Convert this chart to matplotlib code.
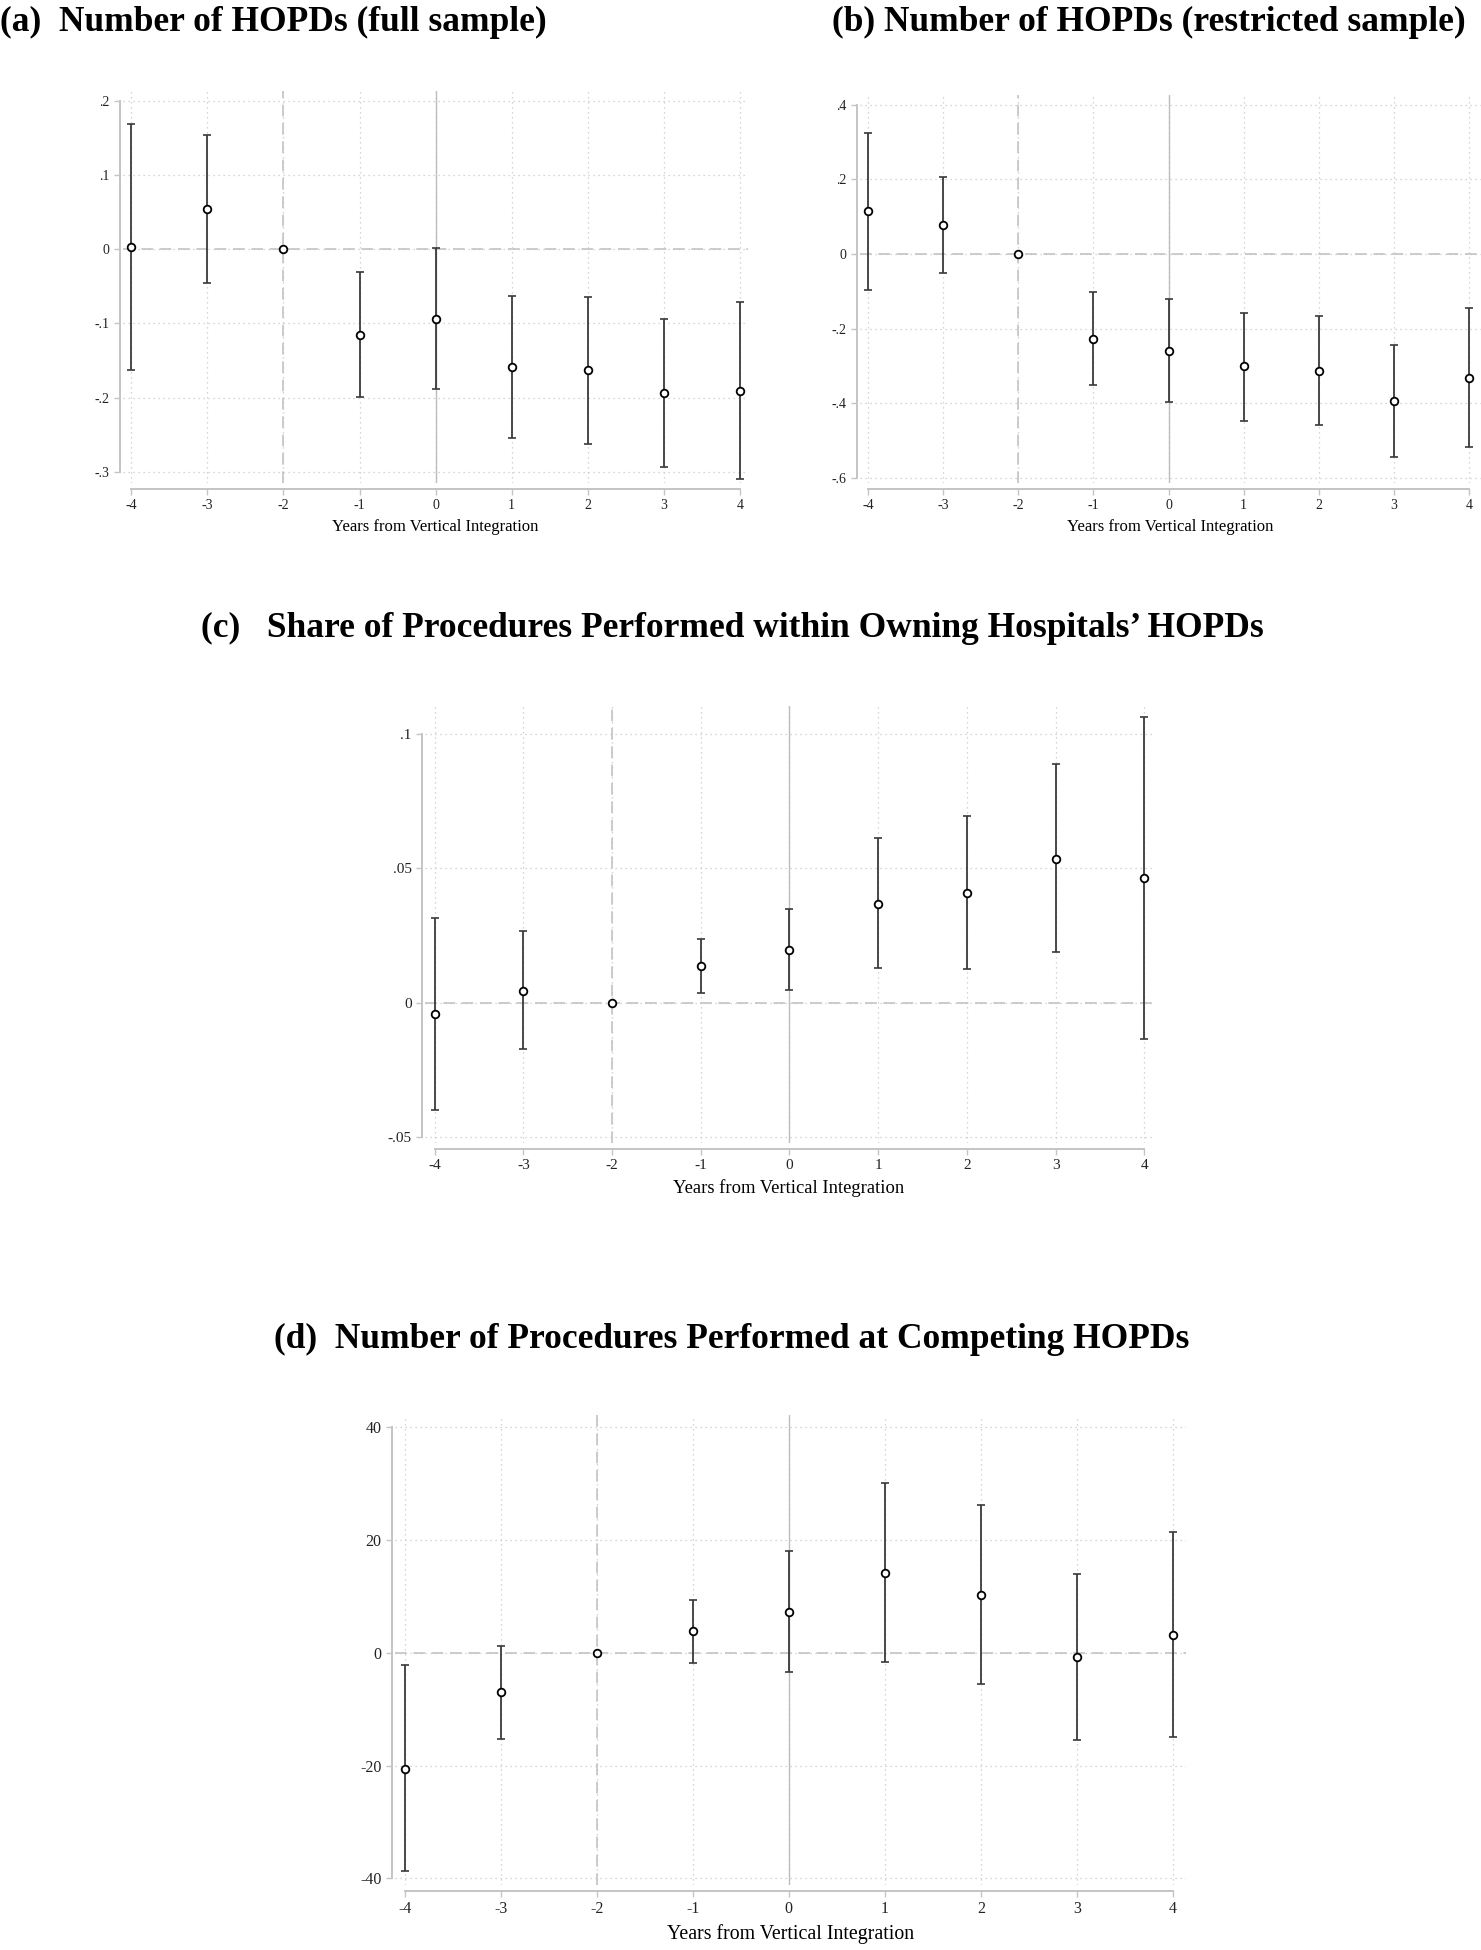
import numpy as np
import matplotlib
matplotlib.use("Agg")
from matplotlib import pyplot as plt

plt.rcParams["font.family"] = ["Liberation Serif", "DejaVu Serif"]

years = [-4, -3, -2, -1, 0, 1, 2, 3, 4]

# (a) number of HOPDs, full sample
a_coef = [0.0034, 0.054, 0.0, -0.115, -0.094, -0.159, -0.163, -0.194, -0.191]
a_hi = [0.169, 0.154, 0.0, -0.031, 0.002, -0.0635, -0.064, -0.094, -0.071]
a_lo = [-0.1625, -0.0457, 0.0, -0.199, -0.189, -0.254, -0.262, -0.293, -0.309]
a_yticks = [-0.3, -0.2, -0.1, 0, 0.1, 0.2]
a_ylabels = ["-.3", "-.2", "-.1", "0", ".1", ".2"]

# (b) number of HOPDs, restricted sample
b_coef = [0.115, 0.0775, 0.0, -0.227, -0.259, -0.301, -0.313, -0.393, -0.332]
b_hi = [0.325, 0.207, 0.0, -0.101, -0.1215, -0.157, -0.1675, -0.243, -0.146]
b_lo = [-0.0957, -0.0517, 0.0, -0.352, -0.396, -0.447, -0.458, -0.543, -0.517]
b_yticks = [-0.6, -0.4, -0.2, 0, 0.2, 0.4]
b_ylabels = ["-.6", "-.4", "-.2", "0", ".2", ".4"]

# (c) share of procedures within owning hospitals' HOPDs
c_coef = [-0.0043, 0.0044, 0.0, 0.0135, 0.0196, 0.0368, 0.0408, 0.0536, 0.0462]
c_hi = [0.0315, 0.0265, 0.0, 0.0235, 0.0347, 0.0611, 0.0693, 0.0888, 0.1063]
c_lo = [-0.040, -0.0174, 0.0, 0.0037, 0.0046, 0.0127, 0.0124, 0.0188, -0.0137]
c_yticks = [-0.05, 0, 0.05, 0.1]
c_ylabels = ["-.05", "0", ".05", ".1"]

# (d) number of procedures at competing HOPDs
d_coef = [-20.55, -7.03, 0.0, 3.79, 7.24, 14.2, 10.34, -0.76, 3.17]
d_hi = [-2.2, 1.24, 0.0, 9.45, 18.07, 30.1, 26.3, 14.0, 21.4]
d_lo = [-38.8, -15.3, 0.0, -1.79, -3.45, -1.66, -5.5, -15.4, -14.9]
d_yticks = [-40, -20, 0, 20, 40]
d_ylabels = ["-40", "-20", "0", "20", "40"]

W, H = 1481, 1950
fig = plt.figure(figsize=(W / 100, H / 100), dpi=100)


def make_ax(l, r, t, b):
    return fig.add_axes([l / W, 1 - b / H, (r - l) / W, (b - t) / H])


def event_plot(ax, coef, lo, hi, yticks, ylabels, xlim, ylim, tsize=10, lsize=12):
    grey = "#c4c4c4"
    ax.set_xlim(xlim)
    ax.set_ylim(ylim)
    ax.set_xticks(years)
    ax.set_xticklabels([str(v) for v in years])
    ax.set_yticks(yticks)
    ax.set_yticklabels(ylabels)
    ax.grid(True, linestyle=(0, (1, 3)), color="#c8c8c8", lw=0.9)
    ax.set_axisbelow(True)
    ax.axvline(0, color="#bdbdbd", lw=1.0, zorder=1)
    ax.axvline(-2, color="#c4c4c4", lw=1.2, ls=(0, (7, 4)), zorder=1)
    ax.axhline(0, color="#c4c4c4", lw=1.2, ls=(0, (7, 4)), zorder=1)
    coef = np.array(coef)
    err = [coef - np.array(lo), np.array(hi) - coef]
    ax.errorbar(years, coef, yerr=err, fmt="none", ecolor="#3a3a3a",
                elinewidth=1.3, capsize=3, capthick=1.2, zorder=3)
    ax.plot(years, coef, "o", ms=5.5, mfc="white", mec="black", mew=1.3, zorder=4)
    for s in ["top", "right"]:
        ax.spines[s].set_visible(False)
    ax.spines["left"].set_position(("outward", 2.2))
    ax.spines["bottom"].set_position(("outward", 4.0))
    ax.spines["left"].set_bounds(yticks[0], yticks[-1])
    ax.spines["bottom"].set_bounds(-4, 4)
    for s in ["left", "bottom"]:
        ax.spines[s].set_color(grey)
        ax.spines[s].set_linewidth(1.4)
    ax.tick_params(axis="both", color=grey, length=4, width=1.0,
                   labelsize=tsize, labelcolor="#222222", pad=3.5)
    ax.set_xlabel("Years from Vertical Integration", fontsize=lsize, labelpad=5)


ax_a = make_ax(123, 748, 91, 483)
event_plot(ax_a, a_coef, a_lo, a_hi, a_yticks, a_ylabels, (-4.108, 4.105), (-0.315, 0.213))

ax_b = make_ax(860, 1481, 95, 483)
event_plot(ax_b, b_coef, b_lo, b_hi, b_yticks, b_ylabels, (-4.107, 4.16), (-0.6137, 0.4257))

ax_c = make_ax(425, 1152, 706, 1143)
event_plot(ax_c, c_coef, c_lo, c_hi, c_yticks, c_ylabels, (-4.108, 4.087), (-0.0523, 0.1104),
           tsize=11, lsize=13.4)

ax_d = make_ax(395, 1186, 1415, 1885)
event_plot(ax_d, d_coef, d_lo, d_hi, d_yticks, d_ylabels, (-4.1, 4.135), (-41.2, 42.2),
           tsize=11.5, lsize=14.3)

tkw = dict(fontsize=25.5, fontweight="bold", va="center")
fig.text(0 / W, 1 - 22 / H, "(a)  Number of HOPDs (full sample)", ha="left", **tkw)
fig.text(1466 / W, 1 - 22 / H, "(b) Number of HOPDs (restricted sample)", ha="right", **tkw)
fig.text(732 / W, 1 - 628 / H, "(c)   Share of Procedures Performed within Owning Hospitals\u2019 HOPDs",
         ha="center", **tkw)
fig.text(732 / W, 1 - 1339 / H, "(d)  Number of Procedures Performed at Competing HOPDs",
         ha="center", **tkw)

fig.savefig("out.png", dpi=100)
